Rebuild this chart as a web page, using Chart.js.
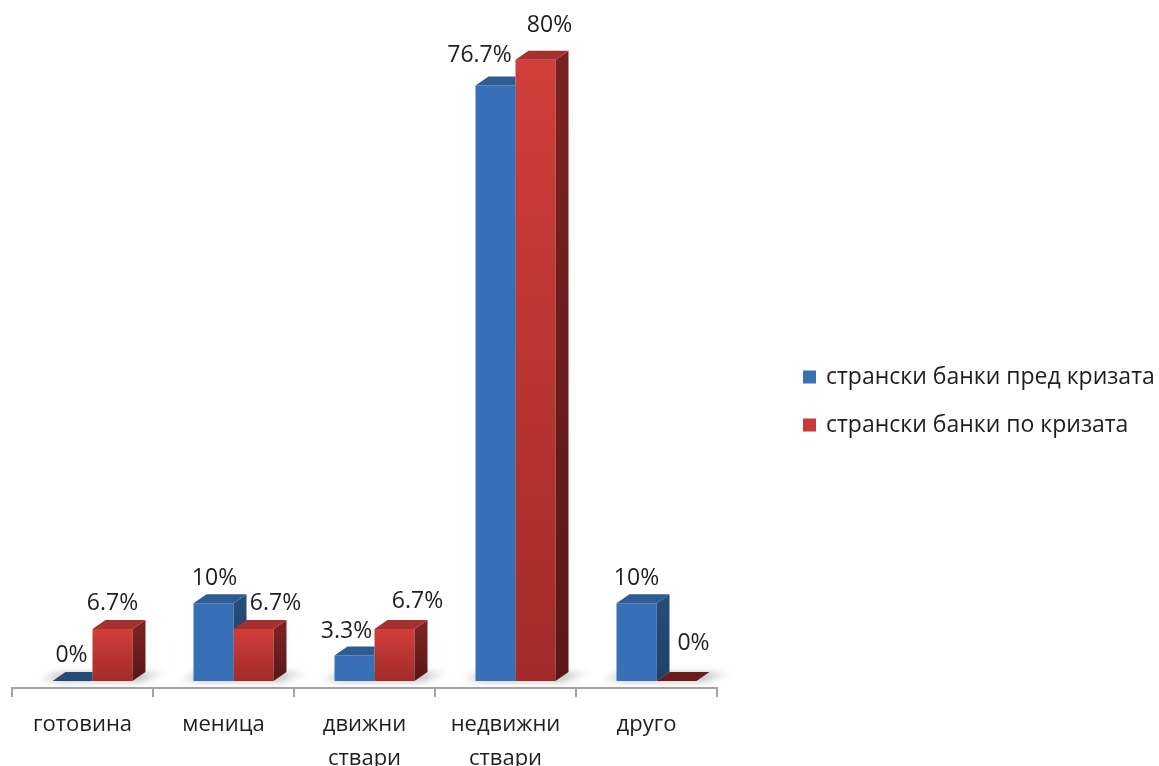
<!DOCTYPE html>
<html>
<head>
<meta charset="utf-8">
<script src="https://cdn.jsdelivr.net/npm/chart.js@4/dist/chart.umd.min.js"></script>
<style>
  html, body { margin: 0; padding: 0; background: #ffffff; }
  #wrap { width: 1159px; height: 766px; position: relative; overflow: hidden; }
</style>
</head>
<body>
<div id="wrap"><canvas id="chart" width="1159" height="766"></canvas></div>
<script>
// Collateral types (two-line labels are arrays)
const categories = ['готовина', 'меница', ['движни', 'ствари'], ['недвижни', 'ствари'], 'друго'];
const seriesNames = ['странски банки пред кризата', 'странски банки по кризата'];
// Share of answers, %
const beforeCrisis = [0, 10, 3.3, 76.7, 10];
const afterCrisis = [6.7, 6.7, 6.7, 80, 0];

// Value-label placement: [dx from column centre, gap above column top] per series
const labelNudgeBefore = [[-1, 19], [1, 18], [-8, 17], [-16, 23], [0, 18]];
const labelNudgeAfter = [[0, 19], [22, 19], [23, 21], [14, 28], [17, 31]];

// Column styling: front, top and side faces of the pseudo-3D boxes
const DEPTH_X = 13, DEPTH_Y = 9, SHIFT_X = 10;
const FONT = "'Open Sans'";
const palette = [
  { front: '#3870b8', top: '#2e5b91', side: '#264c7b', sideDark: '#1f406a', zeroTop: '#264a78', legend: '#3870b8' },
  { front: '#cc3a37', top: '#a5302d', side: '#7a2222', sideDark: '#5a1717', zeroTop: '#6c1c1c', legend: '#c9383a' }
];

function redFront(context) {
  const chart = context.chart;
  const y = chart.scales && chart.scales.y;
  if (!y || context.raw === undefined) return palette[1].front;
  const top = y.getPixelForValue(context.raw);
  const base = y.getPixelForValue(0);
  if (!(base - top > 1)) return palette[1].front;
  const g = chart.ctx.createLinearGradient(0, top, 0, base);
  g.addColorStop(0, '#d23e3a');
  g.addColorStop(1, '#a22b29');
  return g;
}

function topFace(ctx, L, R, top, color) {
  ctx.fillStyle = color;
  ctx.beginPath();
  ctx.moveTo(L, top);
  ctx.lineTo(L + DEPTH_X, top - DEPTH_Y);
  ctx.lineTo(R + DEPTH_X, top - DEPTH_Y);
  ctx.lineTo(R, top);
  ctx.closePath();
  ctx.fill();
}

function sideFace(ctx, R, top, base, color, dark) {
  if (base - top < 0.5) return;
  const g = ctx.createLinearGradient(0, top, 0, base);
  g.addColorStop(0, color);
  g.addColorStop(1, dark);
  ctx.fillStyle = g;
  ctx.beginPath();
  ctx.moveTo(R, top);
  ctx.lineTo(R + DEPTH_X, top - DEPTH_Y);
  ctx.lineTo(R + DEPTH_X, base - DEPTH_Y);
  ctx.lineTo(R, base);
  ctx.closePath();
  ctx.fill();
}

const columns3d = {
  id: 'columns3d',
  beforeDatasetsDraw(chart) {
    const ctx = chart.ctx;
    ctx.save();
    ctx.translate(SHIFT_X, 0);
    const m0 = chart.getDatasetMeta(0), m1 = chart.getDatasetMeta(1);
    m0.data.forEach((b, i) => {
      const r = m1.data[i];
      const L = b.x - b.width / 2, R = r.x + r.width / 2, base = b.base;
      ctx.save();
      ctx.filter = 'blur(3px)';
      const g = ctx.createLinearGradient(L - 16, 0, R + DEPTH_X + 24, 0);
      g.addColorStop(0, 'rgba(0,0,0,0.0)');
      g.addColorStop(0.2, 'rgba(0,0,0,0.22)');
      g.addColorStop(0.8, 'rgba(0,0,0,0.22)');
      g.addColorStop(1, 'rgba(0,0,0,0.0)');
      ctx.fillStyle = g;
      ctx.beginPath();
      ctx.moveTo(L - 16, base + 1);
      ctx.lineTo(R + 8, base + 1);
      ctx.lineTo(R + DEPTH_X + 24, base - DEPTH_Y);
      ctx.lineTo(L, base - DEPTH_Y);
      ctx.closePath();
      ctx.fill();
      ctx.restore();
    });
  },
  afterDatasetsDraw(chart) {
    const ctx = chart.ctx;
    const m0 = chart.getDatasetMeta(0), m1 = chart.getDatasetMeta(1);
    m0.data.forEach((b, i) => {
      const r = m1.data[i];
      const base = b.base;
      const bL = b.x - b.width / 2, bR = b.x + b.width / 2;
      const rL = r.x - r.width / 2, rR = r.x + r.width / 2;
      // blue box faces, kept behind the red front face
      ctx.save();
      ctx.beginPath();
      ctx.rect(-2000, -2000, 6000, 6000);
      ctx.rect(rL, r.y, r.width, base - r.y);
      ctx.clip('evenodd');
      const v0 = chart.data.datasets[0].data[i];
      sideFace(ctx, bR, b.y, base, palette[0].side, palette[0].sideDark);
      topFace(ctx, bL, bR, b.y, v0 === 0 ? palette[0].zeroTop : palette[0].top);
      ctx.restore();
      // red box faces
      const v1 = chart.data.datasets[1].data[i];
      sideFace(ctx, rR, r.y, base, palette[1].side, palette[1].sideDark);
      topFace(ctx, rL, rR, r.y, v1 === 0 ? palette[1].zeroTop : palette[1].top);
    });
    // value labels
    ctx.fillStyle = '#1e1e1e';
    ctx.font = '23px ' + FONT;
    ctx.textAlign = 'center';
    ctx.textBaseline = 'alphabetic';
    const nudges = [labelNudgeBefore, labelNudgeAfter];
    [m0, m1].forEach((meta, d) => {
      meta.data.forEach((bar, i) => {
        const v = chart.data.datasets[d].data[i];
        const [dx, gap] = nudges[d][i];
        ctx.fillText(v + '%', bar.x + dx, bar.y - gap);
      });
    });
    ctx.restore();
  },
  afterDraw(chart) {
    const ctx = chart.ctx;
    ctx.save();
    ctx.font = '23px ' + FONT;
    ctx.textBaseline = 'middle';
    ctx.textAlign = 'left';
    chart.data.datasets.forEach((ds, d) => {
      const cy = 377 + d * 48;
      ctx.fillStyle = palette[d].legend;
      ctx.fillRect(803, cy - 6.5, 13, 13);
      ctx.fillStyle = '#1e1e1e';
      ctx.fillText(ds.label, 826, cy);
    });
    ctx.restore();
  }
};

Chart.defaults.font.family = FONT;
Chart.defaults.color = '#1e1e1e';

new Chart(document.getElementById('chart'), {
  type: 'bar',
  data: {
    labels: categories,
    datasets: [
      { label: seriesNames[0], data: beforeCrisis, backgroundColor: palette[0].front, clip: false },
      { label: seriesNames[1], data: afterCrisis, backgroundColor: redFront, clip: false }
    ]
  },
  options: {
    responsive: false,
    animation: false,
    devicePixelRatio: 1,
    barPercentage: 1,
    categoryPercentage: 80 / 141,
    layout: { padding: { top: 21, left: 12, right: 442, bottom: 0 } },
    plugins: { legend: { display: false }, tooltip: { enabled: false } },
    scales: {
      x: {
        grid: { display: true, offset: true, drawOnChartArea: false, drawTicks: true, tickLength: 9, color: '#a3a3a3', lineWidth: 2 },
        border: { display: true, color: '#a3a3a3', width: 2 },
        ticks: { font: { size: 22, lineHeight: 1.55 }, padding: 11, color: '#1e1e1e', maxRotation: 0, autoSkip: false },
        afterFit(scale) { scale.height = 78; }
      },
      y: { display: false, min: -0.9, max: 85 }
    }
  },
  plugins: [columns3d]
});
</script>
</body>
</html>
